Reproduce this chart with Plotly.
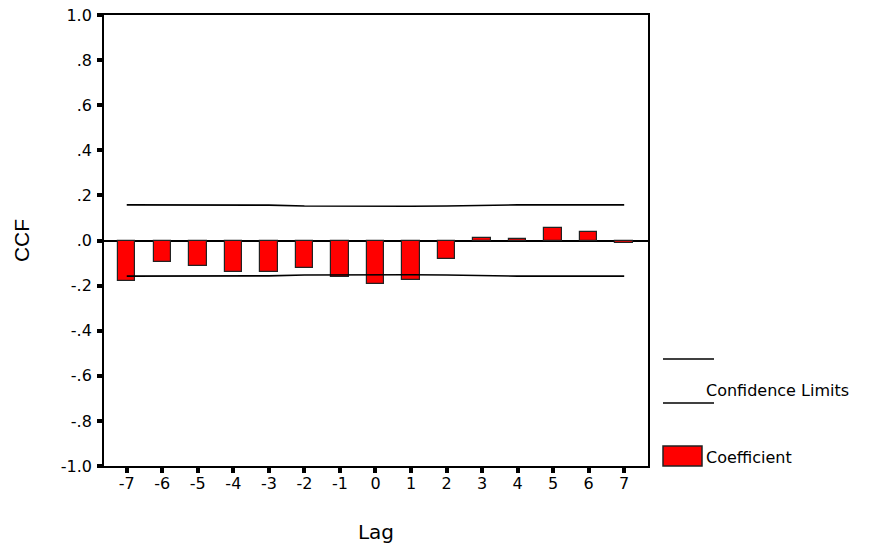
import plotly.graph_objects as go

# Data
lags = [-7, -6, -5, -4, -3, -2, -1, 0, 1, 2, 3, 4, 5, 6, 7]
coefficients = [-0.180, -0.095, -0.115, -0.140, -0.140, -0.120, -0.160, -0.195,
                -0.175, -0.081, 0.012, 0.007, 0.055, 0.037, -0.010]
conf_limit = [0.158, 0.158, 0.158, 0.158, 0.157, 0.153, 0.152, 0.152,
              0.152, 0.153, 0.157, 0.158, 0.158, 0.158, 0.158]
upper_limit = conf_limit
lower_limit = [-v for v in conf_limit]

y_tick_vals = [1.0, 0.8, 0.6, 0.4, 0.2, 0.0, -0.2, -0.4, -0.6, -0.8, -1.0]
y_tick_text = ["1.0", ".8", ".6", ".4", ".2", ".0", "-.2", "-.4", "-.6", "-.8", "-1.0"]
x_tick_text = [str(v) for v in lags]

FONT = "DejaVu Sans"

fig = go.Figure()
fig.add_trace(go.Bar(
    x=lags, y=coefficients, width=0.49,
    marker=dict(color="#ff0000", line=dict(color="#222222", width=1.2)),
    name="Coefficient", showlegend=False,
))
fig.add_trace(go.Scatter(
    x=lags, y=upper_limit, mode="lines",
    line=dict(color="black", width=1.6), showlegend=False,
))
fig.add_trace(go.Scatter(
    x=lags, y=lower_limit, mode="lines",
    line=dict(color="black", width=1.6), showlegend=False,
))

# plot area: x 104..648, y 15..466
L, R, T, B = 104, 648, 15, 466
W, H = R - L, B - T

def px(x):
    return (x - L) / W

def py(y):
    return (B - y) / H

shapes = [
    dict(type="line", xref="paper", yref="paper", x0=px(663), x1=px(714),
         y0=py(359), y1=py(359), line=dict(color="black", width=1.6)),
    dict(type="line", xref="paper", yref="paper", x0=px(663), x1=px(714),
         y0=py(403), y1=py(403), line=dict(color="black", width=1.6)),
    dict(type="rect", xref="paper", yref="paper", x0=px(663), x1=px(702),
         y0=py(466), y1=py(446), fillcolor="#ff0000",
         line=dict(color="#222222", width=1.5)),
]
annotations = [
    dict(text="Confidence Limits", xref="paper", yref="paper", x=px(704), y=py(390),
         xanchor="left", yanchor="middle", showarrow=False,
         font=dict(family=FONT, size=16, color="black")),
    dict(text="Coefficient", xref="paper", yref="paper", x=px(704), y=py(457),
         xanchor="left", yanchor="middle", showarrow=False,
         font=dict(family=FONT, size=16, color="black")),
]

fig.update_layout(
    width=870, height=546,
    margin=dict(l=L, r=870 - R, t=T, b=546 - B),
    plot_bgcolor="white", paper_bgcolor="white",
    bargap=0, showlegend=False,
    shapes=shapes, annotations=annotations,
    font=dict(family=FONT, size=16, color="black"),
)
fig.update_xaxes(
    range=[-7.64, 7.67], tickmode="array", tickvals=lags, ticktext=x_tick_text,
    showline=True, linecolor="black", linewidth=1.8, mirror=True,
    ticks="outside", ticklen=5, tickwidth=4, tickcolor="black",
    showgrid=False, zeroline=False, automargin=False, ticklabelstandoff=-3,
    tickfont=dict(family=FONT, size=16, color="black"),
    title=dict(text="Lag", font=dict(family=FONT, size=20, color="black"), standoff=33),
)
fig.update_yaxes(
    range=[-1.0, 1.0], tickmode="array", tickvals=y_tick_vals, ticktext=y_tick_text,
    showline=True, linecolor="black", linewidth=1.8, mirror=True,
    ticks="outside", ticklen=5, tickwidth=4, tickcolor="black",
    showgrid=False, zeroline=True, zerolinecolor="black", zerolinewidth=1.6,
    automargin=False, ticklabelstandoff=2,
    tickfont=dict(family=FONT, size=16, color="black"),
    title=dict(text="CCF", font=dict(family="Liberation Sans", size=21, color="black"), standoff=25),
)

fig.write_html("out.html", config={"displayModeBar": False},
               post_script="document.body.style.margin='0';document.body.style.overflow='hidden';")
